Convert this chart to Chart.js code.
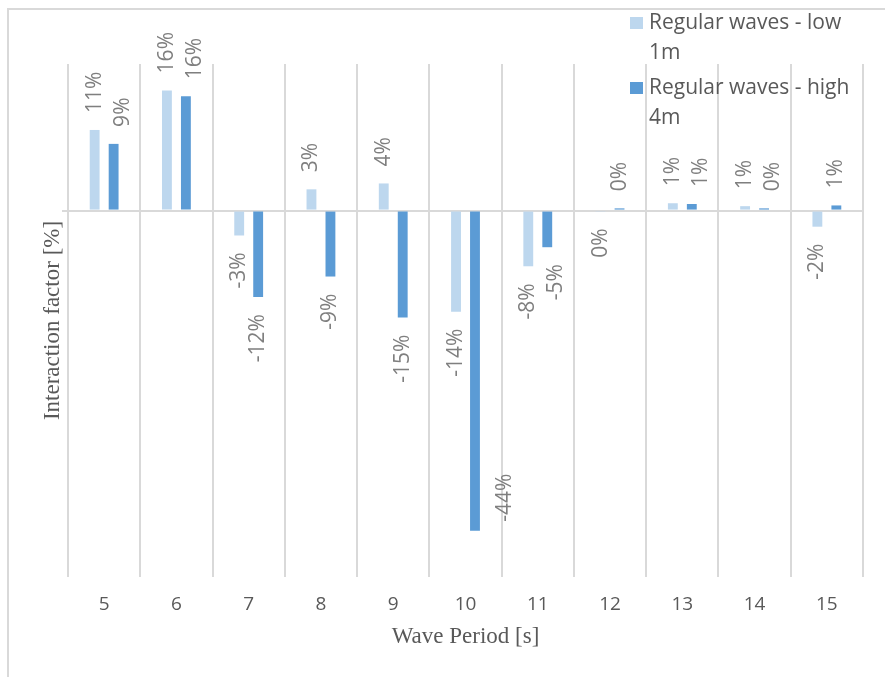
<!DOCTYPE html>
<html>
<head>
<meta charset="utf-8">
<script src="https://cdn.jsdelivr.net/npm/chart.js@4.4.0/dist/chart.umd.min.js"></script>
<style>
  body { margin: 0; background: #ffffff; }
  #grafico { display: block; }
</style>
</head>
<body>
<canvas id="grafico" width="885" height="677"></canvas>
<script>
// dados
const periodos = ['5', '6', '7', '8', '9', '10', '11', '12', '13', '14', '15'];
const ondasBaixas = [11.0, 16.4, -3.4, 2.9, 3.7, -13.8, -7.6, -0.1, 1.0, 0.6, -2.2];
const ondasAltas = [9.1, 15.6, -11.8, -9.0, -14.6, -43.7, -5.0, 0.3, 0.9, 0.3, 0.7];
const nomesSeries = [['Regular waves - low', '1m'], ['Regular waves - high', '4m']];
const coresSeries = ['#bdd7ee', '#5b9bd5'];

// moldura cinza em volta do gráfico
const molduraPlugin = {
    id: 'moldura',
    beforeDraw(chart) {
        const ctx = chart.ctx;
        ctx.save();
        ctx.fillStyle = '#ffffff';
        ctx.fillRect(0, 0, chart.width, chart.height);
        ctx.strokeStyle = '#d9d9d9';
        ctx.lineWidth = 2;
        ctx.strokeRect(8, 9, chart.width + 20, chart.height + 20);
        ctx.restore();
    }
};

// rótulos de valor girados, no fim de cada barra
const rotulosPlugin = {
    id: 'rotulos',
    afterDatasetsDraw(chart) {
        const ctx = chart.ctx;
        const area = chart.chartArea;
        const espaco = 17;
        const espessura = 20;
        const colocados = [];
        ctx.save();
        ctx.font = '21px "Open Sans"';
        ctx.fillStyle = '#7f7f7f';
        ctx.textBaseline = 'middle';
        ctx.textAlign = 'left';
        chart.data.datasets.forEach((ds, i) => {
            chart.getDatasetMeta(i).data.forEach((barra, j) => {
                const valor = ds.data[j];
                const texto = Math.round(valor) + '%';
                const w = ctx.measureText(texto).width;
                let x = barra.x;
                let yFim, yIni;
                if (valor >= 0) {
                    yFim = barra.y - espaco;
                    yIni = yFim - w;
                } else {
                    yIni = barra.y + espaco;
                    yFim = yIni + w;
                }
                // não cabe embaixo: vai para o lado da barra
                if (yFim > area.bottom) {
                    x += 30;
                    yFim = barra.y - 9;
                    yIni = yFim - w;
                }
                colocados.filter(p => p.j === j).forEach(p => {
                    if (Math.abs(p.x - x) < espessura && yIni < p.yFim && yFim > p.yIni) {
                        x = p.x + 28;
                    }
                });
                colocados.push({ j: j, x: x, yIni: yIni, yFim: yFim });
                ctx.save();
                ctx.translate(x, yFim);
                ctx.rotate(-Math.PI / 2);
                ctx.fillText(texto, 0, 0);
                ctx.restore();
            });
        });
        ctx.restore();
    }
};

// legenda no canto superior direito, com quebra de linha
const legendaPlugin = {
    id: 'legenda',
    afterDraw(chart) {
        const ctx = chart.ctx;
        ctx.save();
        ctx.font = '21px "Open Sans"';
        ctx.textBaseline = 'middle';
        ctx.textAlign = 'left';
        let y = 23;
        nomesSeries.forEach((linhas, i) => {
            ctx.fillStyle = coresSeries[i];
            ctx.fillRect(630, y - 6, 13, 12);
            ctx.fillStyle = '#595959';
            linhas.forEach((linha, k) => {
                ctx.fillText(linha, 649, y + k * 30);
            });
            y += 65;
        });
        ctx.restore();
    }
};

const dados = {
    labels: periodos,
    datasets: [
        {
            label: nomesSeries[0].join(' '),
            data: ondasBaixas,
            backgroundColor: coresSeries[0],
            categoryPercentage: 0.525,
            barPercentage: 0.52
        },
        {
            label: nomesSeries[1].join(' '),
            data: ondasAltas,
            backgroundColor: coresSeries[1],
            categoryPercentage: 0.525,
            barPercentage: 0.52
        }
    ]
};

const config = {
    type: 'bar',
    data: dados,
    options: {
        responsive: false,
        animation: false,
        layout: { padding: { left: 8, top: 64, right: 22, bottom: 0 } },
        plugins: {
            legend: { display: false },
            tooltip: { enabled: false }
        },
        scales: {
            x: {
                grid: { color: '#d9d9d9', lineWidth: 2, drawTicks: false, offset: true },
                border: { display: false },
                ticks: { color: '#595959', font: { family: 'Open Sans', size: 19 }, padding: 16 },
                title: {
                    display: true,
                    text: 'Wave Period [s]',
                    color: '#595959',
                    font: { family: 'Liberation Serif', size: 23 },
                    padding: { top: 0, bottom: 26 }
                },
                afterFit(escala) { escala.height = 100; }
            },
            y: {
                min: -50,
                max: 20,
                ticks: { display: false, stepSize: 10 },
                grid: {
                    color: (c) => (c.tick && c.tick.value === 0 ? '#d9d9d9' : 'rgba(0,0,0,0)'),
                    lineWidth: 2,
                    tickLength: 6
                },
                border: { display: false },
                title: {
                    display: true,
                    text: 'Interaction factor [%]',
                    color: '#595959',
                    font: { family: 'Liberation Serif', size: 23 },
                    padding: { top: 31, bottom: 0 }
                },
                afterFit(escala) { escala.width = 60; }
            }
        }
    },
    plugins: [molduraPlugin, rotulosPlugin, legendaPlugin]
};

let grafico = new Chart(document.getElementById('grafico'), config);
</script>
</body>
</html>
